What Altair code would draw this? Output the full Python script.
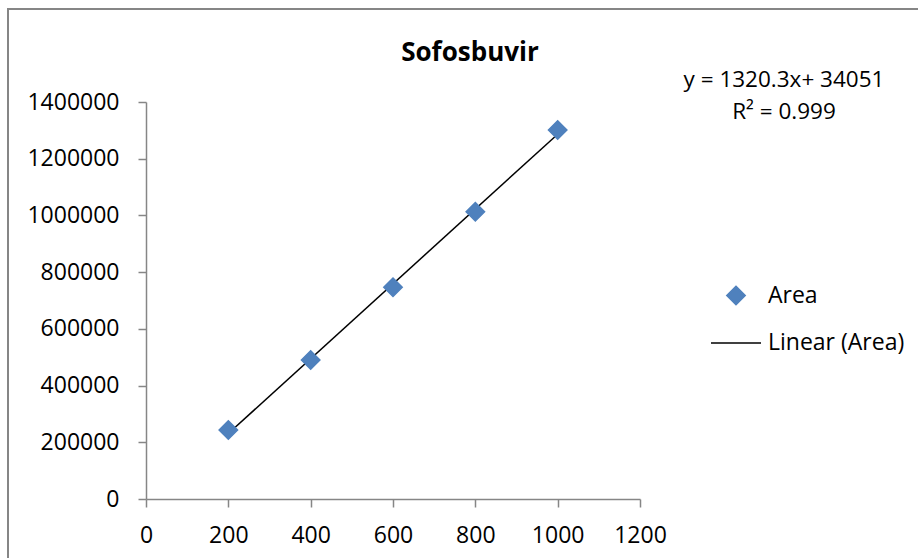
import altair as alt
import pandas as pd

# Data
concentration = [200, 400, 600, 800, 1000]
area = [243000, 490000, 746500, 1013000, 1301000]
series_names = ["Area", "Linear (Area)"]
x_ticks = [0, 200, 400, 600, 800, 1000, 1200]
y_ticks = [0, 200000, 400000, 600000, 800000, 1000000, 1200000, 1400000]
equation_lines = ["y = 1320.3x+ 34051", "R² = 0.999"]
chart_title = ["Sofosbuvir"]

df = pd.DataFrame({"conc": concentration, "area": area, "series": ["Area"] * len(area)})

FONT = "Open Sans"
BLUE = "#4F81BD"
GRAY = "#868686"

x_enc = alt.X("conc:Q", scale=alt.Scale(domain=[0, 1200], nice=False),
              axis=alt.Axis(values=x_ticks, title=None, grid=False, format="d", labelFlush=False))
y_enc = alt.Y("area:Q", scale=alt.Scale(domain=[0, 1400000], nice=False),
              axis=alt.Axis(values=y_ticks, title=None, grid=False, format="d", labelFlush=False))

points = alt.Chart(df).mark_point(filled=True, opacity=1, strokeWidth=1.5).encode(
    x=x_enc,
    y=y_enc,
    fill=alt.Fill("series:N", scale=alt.Scale(domain=series_names, range=[BLUE, "black"]),
                  legend=alt.Legend(title=None)),
    stroke=alt.Stroke("series:N", scale=alt.Scale(domain=series_names, range=[BLUE, "black"]),
                      legend=alt.Legend(title=None)),
    shape=alt.Shape("series:N", scale=alt.Scale(domain=series_names, range=["diamond", "stroke"]),
                    legend=alt.Legend(title=None)),
    size=alt.Size("series:N", scale=alt.Scale(domain=series_names, range=[340, 2500]),
                  legend=alt.Legend(title=None)),
)

trend = alt.Chart(df).transform_regression("conc", "area").mark_line(
    color="black", strokeWidth=1.5
).encode(x="conc:Q", y="area:Q")

eq_df = pd.DataFrame({"t": ["\n".join(equation_lines)]})
equation = alt.Chart(eq_df).mark_text(
    font=FONT, fontSize=22.5, align="center", baseline="top", lineBreak="\n", lineHeight=32, color="black"
).encode(text="t:N", x=alt.value(638), y=alt.value(-33))

title_df = pd.DataFrame({"t": chart_title})
title = alt.Chart(title_df).mark_text(
    font=FONT, fontSize=26, fontWeight="bold", align="center", baseline="alphabetic", color="black"
).encode(text="t:N", x=alt.value(324), y=alt.value(-41))

border = alt.Chart(alt.Data(values=[{"a": 1}])).mark_rect(
    fill=None, stroke=GRAY, strokeWidth=2
).encode(x=alt.value(-138), x2=alt.value(900), y=alt.value(-93), y2=alt.value(600))

chart = alt.layer(border, trend, points, equation, title).properties(
    width=494,
    height=397,
    autosize=alt.AutoSizeParams(type="none"),
    padding={"left": 146, "top": 102, "right": 278, "bottom": 59},
).configure_view(stroke=None).configure_axis(
    labelFont=FONT, labelFontSize=23, labelColor="black",
    domainColor=GRAY, domainWidth=1.5, tickColor=GRAY, tickWidth=1.5, tickSize=8,
).configure_axisY(labelPadding=19).configure_axisX(labelPadding=17).configure_legend(
    orient="none", legendX=564, legendY=182, padding=0, rowPadding=9,
    labelFont=FONT, labelFontSize=23, labelColor="black", labelOffset=6,
    symbolStrokeWidth=1.5, symbolOpacity=1
)

chart.save("out.html", embed_options={"renderer": "svg", "actions": False})
